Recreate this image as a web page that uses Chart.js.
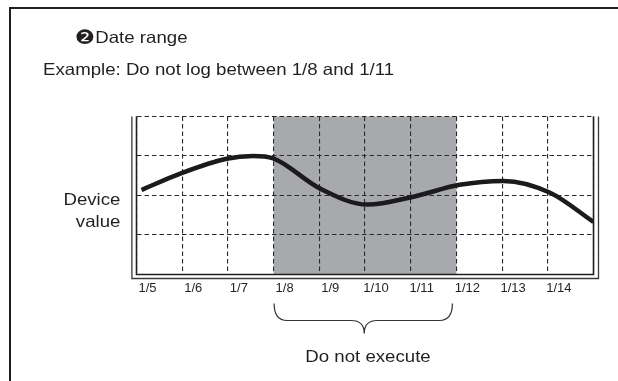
<!DOCTYPE html>
<html><head><meta charset="utf-8">
<script src="https://cdn.jsdelivr.net/npm/chart.js@4.4.1/dist/chart.umd.min.js"></script>
<style>
html,body{margin:0;padding:0;background:#fff;}
#wrap{position:relative;width:618px;height:381px;overflow:hidden;background:#fff;}
#frame{position:absolute;left:9px;top:7px;width:800px;height:600px;border-left:2px solid #231f20;border-top:2px solid #231f20;}
#cv{position:absolute;left:0;top:0;}
.t{position:absolute;font-family:"Liberation Sans",Arial,sans-serif;font-size:16.5px;color:#231f20;white-space:nowrap;line-height:17px;transform:scaleX(1.13);transform-origin:0 50%;}
.r{transform-origin:100% 50%;}
.c{transform-origin:50% 50%;}
.num{font-family:"DejaVu Sans",sans-serif;font-size:20px;vertical-align:-1px;}
</style></head>
<body>
<div id="wrap">
  <div id="frame"></div>
  <canvas id="cv" width="618" height="381"></canvas>
  <div class="t" style="left:75px;top:29px;"><span class="num">❷</span>Date range</div>
  <div class="t" style="left:43px;top:60.8px;">Example: Do not log between 1/8 and 1/11</div>
  <div class="t r" style="right:498px;top:190.8px;text-align:right;">Device</div>
  <div class="t r" style="right:498px;top:212.5px;text-align:right;">value</div>
  <div class="t c" style="left:268px;width:200px;top:347.5px;text-align:center;">Do not execute</div>
</div>
<script>
// ---- data ----
const days = ['1/5','1/6','1/7','1/8','1/9','1/10','1/11','1/12','1/13','1/14'];
const curveX = [0.11, 0.97, 1.97, 2.55, 2.99, 4.01, 5.05, 6.06, 7.07, 8.03, 9.05, 10.0];
const curveY = [2.14, 2.56, 2.93, 3.00, 2.94, 2.18, 1.77, 1.97, 2.27, 2.37, 2.07, 1.33];
const skipFrom = '1/8';
const skipTo = '1/11';
const yRows = 4;

const points = curveX.map((x, i) => ({x: x, y: curveY[i]}));

const shadePlugin = {
  id: 'shade',
  beforeDraw(chart) {
    const {ctx, chartArea: a, scales: {x}} = chart;
    const x0 = x.getPixelForValue(days.indexOf(skipFrom));
    const x1 = x.getPixelForValue(days.indexOf(skipTo) + 1);
    ctx.save();
    ctx.fillStyle = '#a7a9ac';
    ctx.fillRect(x0, a.top, x1 - x0, a.bottom - a.top);
    ctx.restore();
  }
};

const framePlugin = {
  id: 'dblframe',
  afterDatasetsDraw(chart) {
    const {ctx, chartArea: a} = chart;
    ctx.save();
    ctx.strokeStyle = '#231f20';
    ctx.lineWidth = 1.6;
    ctx.beginPath();
    ctx.moveTo(a.left, a.top); ctx.lineTo(a.left, a.bottom); ctx.lineTo(a.right, a.bottom); ctx.lineTo(a.right, a.top);
    ctx.stroke();
    ctx.lineWidth = 1.3;
    ctx.strokeStyle = '#3a3a3a';
    ctx.beginPath();
    ctx.moveTo(a.left - 4.6, a.top); ctx.lineTo(a.left - 4.6, a.bottom + 4); ctx.lineTo(a.right + 5, a.bottom + 4); ctx.lineTo(a.right + 5, a.top);
    ctx.stroke();
    ctx.restore();
  }
};

const bracePlugin = {
  id: 'brace',
  afterDraw(chart) {
    const {ctx, chartArea: a, scales: {x}} = chart;
    const xl = x.getPixelForValue(days.indexOf(skipFrom)) + 0.5;
    const xr = x.getPixelForValue(days.indexOf(skipTo) + 1) - 4;
    const xm = (xl + xr) / 2 + 1;
    const yt = a.bottom + 29, ym = a.bottom + 46, yb = a.bottom + 59;
    const r = 13;
    ctx.save();
    ctx.strokeStyle = '#333';
    ctx.lineWidth = 1.2;
    ctx.beginPath();
    ctx.moveTo(xl, yt);
    ctx.quadraticCurveTo(xl, ym, xl + r, ym);
    ctx.lineTo(xm - r, ym);
    ctx.quadraticCurveTo(xm, ym, xm, yb);
    ctx.quadraticCurveTo(xm, ym, xm + r, ym);
    ctx.lineTo(xr - r, ym);
    ctx.quadraticCurveTo(xr, ym, xr, yt);
    ctx.stroke();
    ctx.restore();
  }
};

new Chart(document.getElementById('cv'), {
  type: 'line',
  data: {
    datasets: [{
      data: points,
      borderColor: '#1c1a1b',
      borderWidth: 4.5,
      pointRadius: 0,
      fill: false,
      cubicInterpolationMode: 'monotone',
      borderCapStyle: 'butt'
    }]
  },
  options: {
    responsive: false,
    animation: false,
    events: [],
    layout: {padding: {left: 136.5, top: 116.5, right: 24.5, bottom: 0}},
    plugins: {legend: {display: false}, tooltip: {enabled: false}},
    scales: {
      x: {
        type: 'linear', min: 0, max: days.length,
        afterFit(s) { s.height = 106.5; },
        border: {display: false, dash: [4.5, 3]},
        grid: {color: '#2a2a2a', lineWidth: 1.1, drawTicks: false},
        ticks: {
          stepSize: 1, autoSkip: false, maxRotation: 0, padding: 6, labelOffset: 11,
          color: '#231f20', font: {family: '"Liberation Sans", Arial, sans-serif', size: 13},
          callback: v => (Number.isInteger(v) && v < days.length) ? days[v] : ''
        }
      },
      y: {
        min: 0, max: yRows,
        afterFit(s) { s.width = 0; },
        border: {display: false, dash: [4.5, 3]},
        grid: {color: '#2a2a2a', lineWidth: 1.1, drawTicks: false},
        ticks: {display: false, stepSize: 1}
      }
    }
  },
  plugins: [shadePlugin, framePlugin, bracePlugin]
});
</script>
</body></html>
